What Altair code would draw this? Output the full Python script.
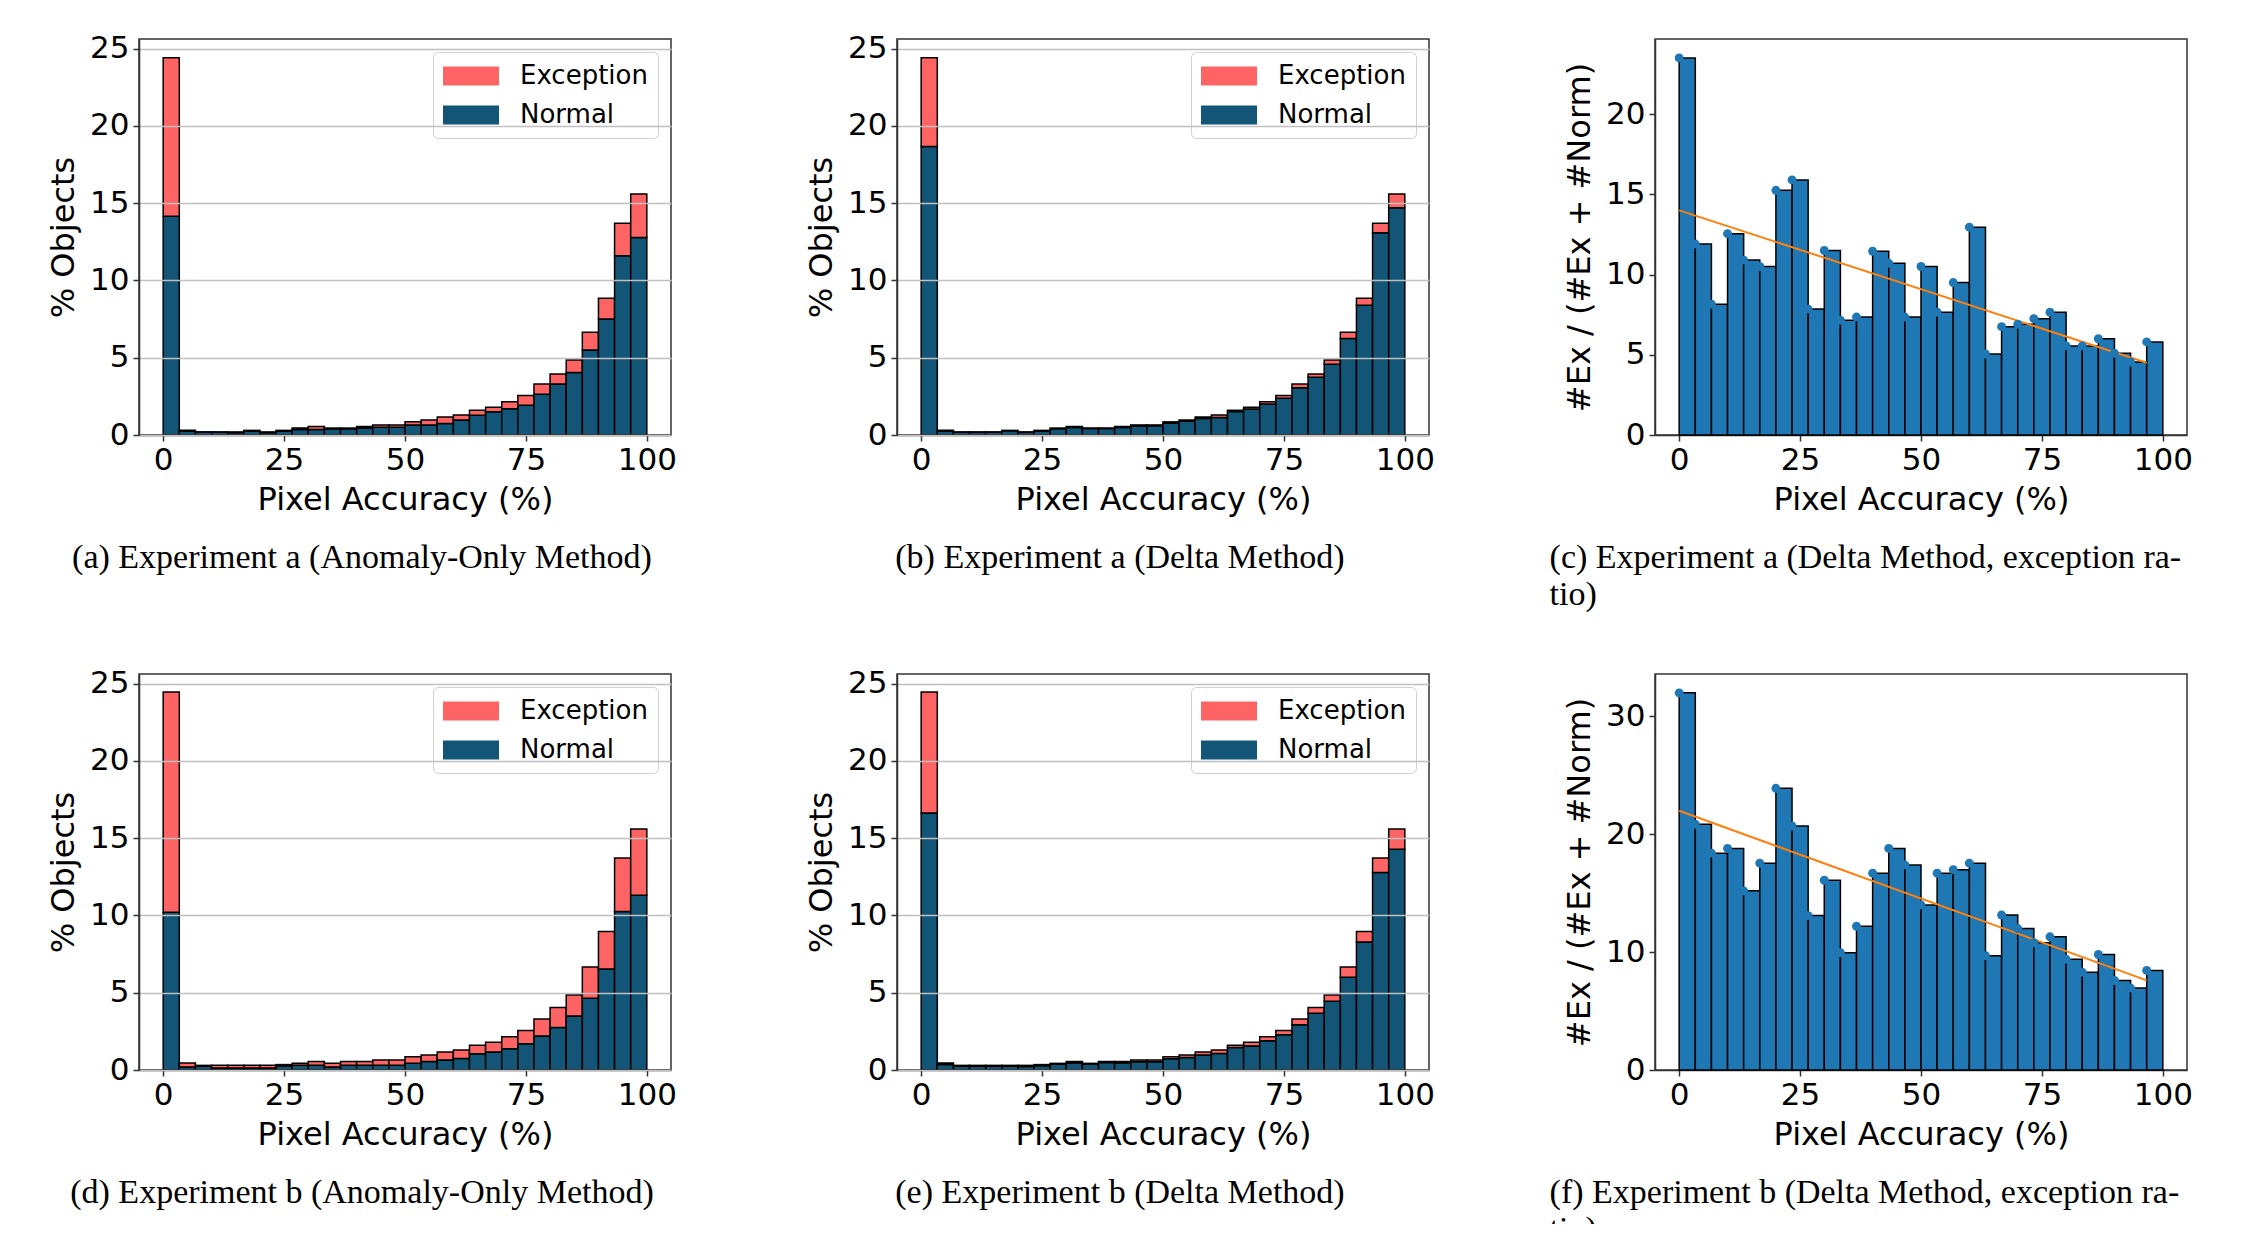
import altair as alt
import pandas as pd

# ---------------- data ----------------
N_BINS = 30
BIN_W = 100 / N_BINS
BIN_LO = [round(i * BIN_W, 4) for i in range(N_BINS)]
BIN_HI = [round((i + 1) * BIN_W, 4) for i in range(N_BINS)]

X_TICKS = [0, 25, 50, 75, 100]
Y_TICKS_PCT = [0, 5, 10, 15, 20, 25]
Y_TICKS_RATIO_A = [0, 5, 10, 15, 20]
Y_TICKS_RATIO_B = [0, 10, 20, 30]

# Experiment a: total % objects per bin
TOTAL_EXP_A = [24.4, 0.3, 0.2, 0.2, 0.2, 0.3, 0.2, 0.3, 0.45, 0.55,
               0.45, 0.45, 0.55, 0.65, 0.65, 0.85, 0.97, 1.17, 1.3, 1.6,
               1.8, 2.15, 2.55, 3.3, 3.95, 4.85, 6.65, 8.85, 13.7, 15.6]
# (a) Anomaly-Only Method: normal part
NORMAL_A_ANOMALY = [14.15, 0.25, 0.2, 0.18, 0.15, 0.25, 0.15, 0.25, 0.35, 0.35,
                    0.4, 0.4, 0.45, 0.5, 0.5, 0.65, 0.65, 0.75, 0.97, 1.28,
                    1.5, 1.7, 1.93, 2.64, 3.3, 4.05, 5.5, 7.5, 11.6, 12.77]
# (b) Delta Method: normal part
NORMAL_A_DELTA = [18.67, 0.26, 0.18, 0.17, 0.18, 0.27, 0.17, 0.25, 0.41, 0.49,
                  0.42, 0.42, 0.49, 0.58, 0.6, 0.76, 0.9, 1.06, 1.13, 1.52,
                  1.68, 2.0, 2.37, 3.05, 3.73, 4.58, 6.25, 8.4, 13.08, 14.7]

# Experiment b: total % objects per bin
TOTAL_EXP_B = [24.45, 0.45, 0.3, 0.3, 0.3, 0.3, 0.3, 0.35, 0.43, 0.55,
               0.43, 0.55, 0.55, 0.65, 0.65, 0.85, 0.97, 1.17, 1.3, 1.6,
               1.8, 2.15, 2.55, 3.3, 4.05, 4.85, 6.67, 8.96, 13.72, 15.6]
# (d) Anomaly-Only Method: normal part
NORMAL_B_ANOMALY = [10.2, 0.2, 0.25, 0.13, 0.13, 0.13, 0.13, 0.27, 0.3, 0.3,
                    0.2, 0.3, 0.3, 0.3, 0.3, 0.43, 0.55, 0.65, 0.75, 1.05,
                    1.17, 1.38, 1.7, 2.2, 2.75, 3.5, 4.65, 6.54, 10.26, 11.3]
# (e) Delta Method: normal part
NORMAL_B_DELTA = [16.63, 0.36, 0.25, 0.24, 0.25, 0.25, 0.23, 0.28, 0.37, 0.46,
                  0.39, 0.48, 0.46, 0.53, 0.54, 0.73, 0.81, 0.97, 1.07, 1.45,
                  1.56, 1.89, 2.28, 2.93, 3.67, 4.45, 6.0, 8.28, 12.77, 14.28]

# (c), (f) exception ratio per bin (%)
RATIO_A = [23.5, 11.9, 8.15, 12.55, 10.9, 10.5, 15.25, 15.9, 7.85, 11.5,
           7.15, 7.35, 11.45, 10.7, 7.35, 10.5, 7.65, 9.5, 12.95, 5.05,
           6.75, 6.9, 7.25, 7.65, 5.55, 5.55, 6.0, 5.1, 4.55, 5.8]
RATIO_B = [32.0, 20.85, 18.4, 18.8, 15.2, 17.55, 23.9, 20.7, 13.1, 16.1,
           9.95, 12.2, 16.7, 18.8, 17.4, 14.0, 16.7, 17.0, 17.55, 9.7,
           13.15, 12.0, 10.8, 11.3, 9.4, 8.3, 9.8, 7.6, 6.95, 8.45]
# linear fit end points
FIT_X = [0.0, 96.667]
FIT_A = [14.0, 4.5]
FIT_B = [22.0, 7.6]

SERIES = ["Exception", "Normal"]
CAP_A = "(a) Experiment a (Anomaly-Only Method)"
CAP_B = "(b) Experiment a (Delta Method)"
CAP_C = ["(c) Experiment a (Delta Method, exception ra-", "tio)"]
CAP_D = "(d) Experiment b (Anomaly-Only Method)"
CAP_E = "(e) Experiment b (Delta Method)"
CAP_F = ["(f) Experiment b (Delta Method, exception ra-", "tio)"]

# ---------------- style ----------------
RED = "#ff6464"
NAVY = "#135577"
BLUE = "#1f77b4"
ORANGE = "#ff7f0e"
W, H = 532, 396
SANS = "DejaVu Sans"
SERIF = "Liberation Serif"


def caption(text, start=False):
    kw = dict(text=text, orient="bottom", frame="bounds", font=SERIF,
              fontSize=34, fontWeight="normal", color="black", offset=26,
              lineHeight=37)
    if start:
        kw.update(anchor="start", align="left", dx=-14)
    else:
        kw.update(anchor="middle")
    return alt.TitleParams(**kw)


def x_enc(field):
    return alt.X(f"{field}:Q", scale=alt.Scale(domain=[-5, 105], nice=False, zero=False),
                 axis=alt.Axis(values=X_TICKS, title="Pixel Accuracy (%)", grid=False))


def stacked(total, normal, cap):
    rows = []
    for lo, hi, t, n in zip(BIN_LO, BIN_HI, total, normal):
        rows.append({"lo": lo, "hi": hi, "series": "Normal", "base": 0.0, "top": n})
        rows.append({"lo": lo, "hi": hi, "series": "Exception", "base": n, "top": max(t, n)})
    df = pd.DataFrame(rows)
    legend = alt.Legend(title=None, orient="top-right", offset=13, padding=10,
                        strokeColor="#d0d0d0", fillColor="rgba(255,255,255,0.85)",
                        cornerRadius=5, labelFont=SANS, labelFontSize=26,
                        labelColor="black", symbolType="M-1,-0.68H3V0.68H-1Z",
                        symbolSize=784, symbolStrokeWidth=0, labelOffset=49,
                        rowPadding=12, symbolOpacity=1)
    return alt.Chart(df).mark_bar(stroke="black", strokeWidth=1.5).encode(
        x=x_enc("lo"),
        x2="hi:Q",
        y=alt.Y("top:Q", scale=alt.Scale(domain=[0, 25.62], nice=False),
                axis=alt.Axis(values=Y_TICKS_PCT, title="% Objects", grid=True, zindex=1)),
        y2="base:Q",
        color=alt.Color("series:N", scale=alt.Scale(domain=SERIES, range=[RED, NAVY]),
                        legend=legend),
    ).properties(width=W, height=H, title=caption(cap))


def ratio(vals, fit_y, ymax, yticks, cap):
    df = pd.DataFrame({"lo": BIN_LO, "hi": BIN_HI, "r": vals, "zero": [0.0] * N_BINS})
    fit = pd.DataFrame({"lo": FIT_X, "r": fit_y})
    y = alt.Y("r:Q", scale=alt.Scale(domain=[0, ymax], nice=False),
              axis=alt.Axis(values=yticks, title="#Ex / (#Ex + #Norm)", grid=False))
    bars = alt.Chart(df).mark_bar(color=BLUE, stroke="black", strokeWidth=1.5).encode(
        x=x_enc("lo"), x2="hi:Q", y=y, y2="zero:Q")
    line = alt.Chart(fit).mark_line(color=ORANGE, strokeWidth=2).encode(x=x_enc("lo"), y=y)
    pts = alt.Chart(df).mark_circle(color=BLUE, size=80, opacity=1).encode(x=x_enc("lo"), y=y)
    return alt.layer(bars, line, pts).properties(width=W, height=H, title=caption(cap, start=True))


pa = stacked(TOTAL_EXP_A, NORMAL_A_ANOMALY, CAP_A)
pb = stacked(TOTAL_EXP_A, NORMAL_A_DELTA, CAP_B)
pc = ratio(RATIO_A, FIT_A, 24.68, Y_TICKS_RATIO_A, CAP_C)
pd_ = stacked(TOTAL_EXP_B, NORMAL_B_ANOMALY, CAP_D)
pe = stacked(TOTAL_EXP_B, NORMAL_B_DELTA, CAP_E)
pf = ratio(RATIO_B, FIT_B, 33.6, Y_TICKS_RATIO_B, CAP_F)

chart = alt.concat(
    pa, pb, pc, pd_, pe, pf, columns=3,
    spacing={"row": 239, "column": 226}, bounds="flush",
).resolve_scale(
    color="independent", x="independent", y="independent"
).resolve_legend(
    color="independent"
).properties(
    autosize=alt.AutoSizeParams(type="none"),
    padding={"left": 131, "top": 31, "right": 2089, "bottom": 1185},
).configure_view(
    stroke="#333333", strokeWidth=1.5
).configure_axis(
    labelFont=SANS, labelFontSize=31, labelColor="black",
    titleFont=SANS, titleFontSize=32, titleFontWeight="normal", titleColor="black",
    tickColor="#333333", tickSize=6, tickWidth=1.5,
    domainColor="#333333", domainWidth=1.5,
    labelPadding=4, titlePadding=9,
    gridColor="#c0c0c0", gridWidth=1.3,
)

chart.save("out.html", embed_options={"renderer": "svg", "actions": False})
